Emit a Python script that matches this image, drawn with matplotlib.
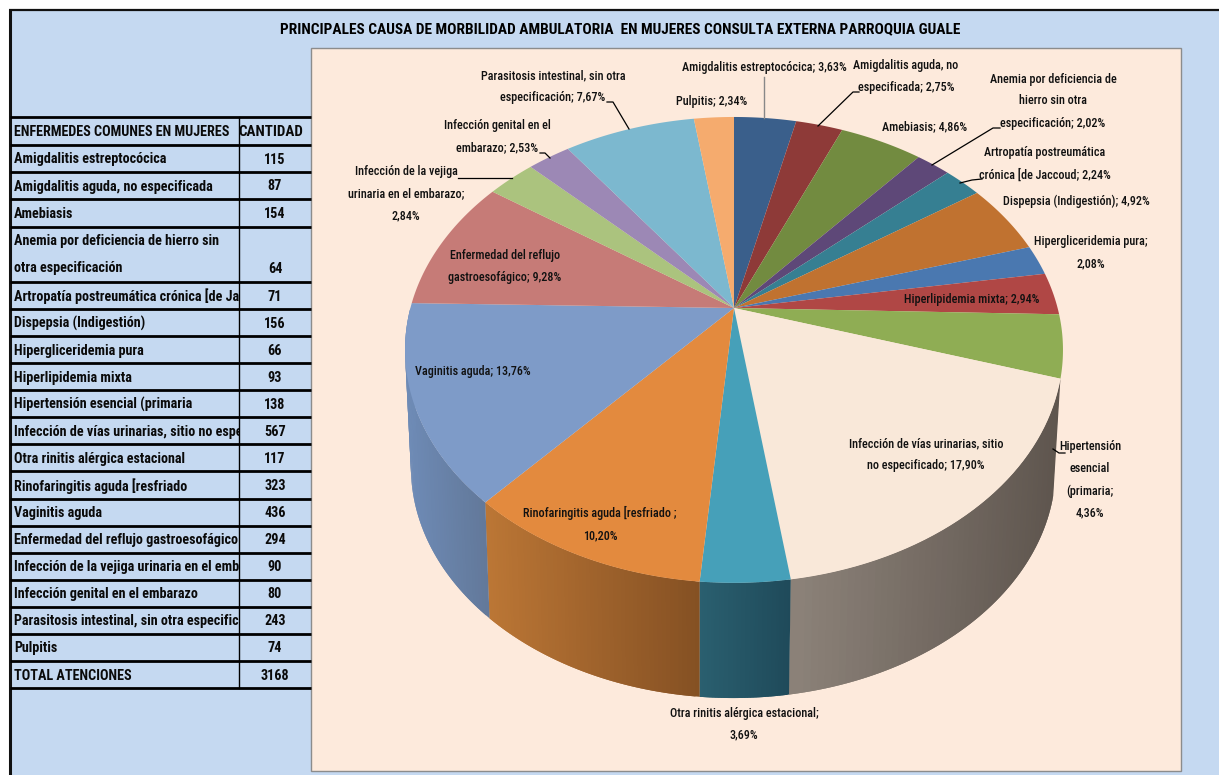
import numpy as np
import matplotlib
matplotlib.use("Agg")
import matplotlib.pyplot as plt
from matplotlib.colors import to_rgb
from matplotlib.patches import Rectangle

W, H = 1219, 775
plt.rcParams["font.family"] = ["Roboto Condensed", "Lato", "DejaVu Sans"]

TITLE = "PRINCIPALES CAUSA DE MORBILIDAD AMBULATORIA  EN MUJERES CONSULTA EXTERNA PARROQUIA GUALE"

table_head = ["ENFERMEDES COMUNES EN MUJERES", "CANTIDAD"]
# tal como se ven en la celda, los nombres largos salen cortados
diseases = [
    "Amigdalitis estreptocócica", "Amigdalitis aguda, no especificada", "Amebiasis",
    "Anemia por deficiencia de hierro sin\notra especificación",
    "Artropatía postreumática crónica [de Ja", "Dispepsia (Indigestión)",
    "Hipergliceridemia pura", "Hiperlipidemia mixta", "Hipertensión esencial (primaria",
    "Infección de vías urinarias, sitio no espe", "Otra rinitis alérgica estacional",
    "Rinofaringitis aguda [resfriado", "Vaginitis aguda", "Enfermedad del reflujo gastroesofágico",
    "Infección de la vejiga urinaria en el emb", "Infección genital en el embarazo",
    "Parasitosis intestinal, sin otra especifica", "Pulpitis",
]
counts = [115, 87, 154, 64, 71, 156, 66, 93, 138, 567, 117, 323, 436, 294, 90, 80, 243, 74]
total_label = "TOTAL ATENCIONES"
total = 3168

slice_labels = [
    "Amigdalitis estreptocócica; 3,63%", "Amigdalitis aguda, no\nespecificada; 2,75%",
    "Amebiasis; 4,86%", "Anemia por deficiencia de\nhierro sin otra\nespecificación; 2,02%",
    "Artropatía postreumática\ncrónica [de Jaccoud; 2,24%", "Dispepsia (Indigestión); 4,92%",
    "Hipergliceridemia pura;\n2,08%", "Hiperlipidemia mixta; 2,94%",
    "Hipertensión\nesencial\n(primaria;\n4,36%", "Infección de vías urinarias, sitio\nno especificado; 17,90%",
    "Otra rinitis alérgica estacional;\n3,69%", "Rinofaringitis aguda [resfriado ;\n10,20%",
    "Vaginitis aguda; 13,76%", "Enfermedad del reflujo\ngastroesofágico; 9,28%",
    "Infección de la vejiga\nurinaria en el embarazo;\n2,84%", "Infección genital en el\nembarazo; 2,53%",
    "Parasitosis intestinal, sin otra\nespecificación; 7,67%", "Pulpitis; 2,34%",
]
label_xy = [
    (764, 67), (906, 77), (925, 127), (1053, 101), (1045, 164), (1076, 201), (1091, 253), (972, 300),
    (1090, 480), (926, 455), (744, 724), (600, 524), (473, 371), (505, 266), (406, 194), (497, 137),
    (553, 87), (712, 102),
]
leaders = [
    [(859, 92), (853, 92), (818, 126)], [(1000, 128), (993, 128), (932, 165)],
    [(982, 179), (972, 180), (960, 183)], [(1053, 449), (1059, 453), (1065, 453)],
    [(458, 178), (512, 178)], [(540, 153), (545, 153), (550, 158)],
    [(607, 102), (613, 102), (629, 129)],
]
gray_leader = [(764, 77), (764, 118)]

top_colors = [
    "#3a5f8b", "#8e3a38", "#728b40", "#5e4878", "#367f92", "#c07230", "#4a78b0", "#b04745", "#8fad54",
    "#f9e8d9", "#46a0b9", "#e38a3e", "#7e9bc8", "#c67b77", "#abc37e", "#9c88b5", "#7cb8cf", "#f5ab6e",
]
# cara lateral: color izq / der
wall_colors = {
    9: ("#8c8279", "#5e554e"), 10: ("#2a5f6f", "#1f4a5a"),
    11: ("#bb7635", "#845023"), 12: ("#6e8bb6", "#627899"),
}

BG = "#c5d9f1"
PANEL = "#fdeadc"
CX, CY, RX, RY, KP = 734, 308, 323.6, 225.4, 0.18
TABLE_FS = 10.2
HEAD_FS = 10.2
LABEL_FS = 8.7


def top_pt(t):
    r = np.radians(np.asarray(t, dtype=float))
    u, v = np.sin(r), np.cos(r)
    d = 1 + KP * v
    return CX + RX * u / d, CY - RY * v / d


def bottom_pt(t):
    x, y = top_pt(t)
    return 700 + 0.98 * (x - 700), 121 + 0.99 * y


def mix(a, b, f):
    a, b = np.array(to_rgb(a)), np.array(to_rgb(b))
    return a + (b - a) * f


def draw_pie(ax):
    edges = np.cumsum([0] + counts) / sum(counts) * 360
    for i, col in wall_colors.items():
        ts = np.linspace(edges[i], min(edges[i + 1], 270), 60)
        xs = top_pt(ts)[0]
        lo, hi = xs.min(), xs.max()
        for k in range(len(ts) - 1):
            pair = ts[[k, min(k + 2, len(ts) - 1)]]  # solape para que no queden rayas
            xa, ya = top_pt(pair)
            xb, yb = bottom_pt(pair[::-1])
            c = mix(col[0], col[1], (xa.mean() - lo) / (hi - lo))
            ax.fill(np.r_[xa, xb], np.r_[ya, yb], fc=c, ec="none", zorder=2)
    for i, col in enumerate(top_colors):
        ts = np.linspace(edges[i], edges[i + 1], 40)
        x, y = top_pt(ts)
        ax.fill(np.r_[CX, x], np.r_[CY, y], fc=col, ec="none", zorder=3)


def cell(ax, x, y, s, fs=TABLE_FS, ha="left"):
    t = ax.text(x, y, s, fontsize=fs, fontweight="bold", va="center", ha=ha, color="#0a0a0a", zorder=4)
    if ha == "left":  # recorte en el borde de la columna
        t.set_clip_path(Rectangle((10, y - 14), 229, 28, transform=ax.transData))
        t.set_clip_on(True)


def draw_table(ax):
    xs = (10, 239, 311)
    rows = [117, 145, 172, 199, 227, 282] + [282 + 27.07 * i for i in range(1, 16)]
    for y in rows:
        ax.plot([xs[0], xs[2]], [y, y], color="black", lw=2.0, zorder=2, solid_capstyle="butt")
    ax.plot([xs[1], xs[1]], [rows[0], rows[-1]], color="black", lw=1.0, zorder=2)

    cell(ax, 14, 132, table_head[0], HEAD_FS)
    cell(ax, 271, 132, table_head[1], 10.8, "center")
    names = diseases + [total_label]
    vals = counts + [total]
    for name, val, y0, y1 in zip(names, vals, rows[1:-1], rows[2:]):
        vy = (y0 + y1) / 2 + 1
        if "\n" in name:  # la fila de Anemia ocupa dos renglones
            first, second = name.split("\n")
            cell(ax, 14, y0 + 14, first)
            cell(ax, 14, y0 + 41, second)
            vy = y0 + 42
        else:
            cell(ax, 14, vy, name)
        cell(ax, 275, vy, str(val), ha="center")


def main():
    fig = plt.figure(figsize=(W / 100, H / 100), dpi=100, facecolor="white")
    ax = fig.add_axes([0, 0, 1, 1])
    ax.set_xlim(0, W)
    ax.set_ylim(H, 0)
    ax.axis("off")

    ax.add_patch(Rectangle((10, 10), W - 10, H - 10, fc=BG, ec="none", zorder=0))
    ax.plot([10, 10], [H, 9], color="#111111", lw=2.2, zorder=1, solid_capstyle="butt")
    ax.plot([9, W], [9.5, 9.5], color="#111111", lw=1.6, zorder=1, solid_capstyle="butt")
    ax.add_patch(Rectangle((311, 48), 870, 723, fc=PANEL, ec="#8c8c8c", lw=1.0, zorder=1))

    ax.text(620.5, 29, TITLE, fontsize=11.1, fontweight="bold", ha="center", va="center", zorder=4)

    draw_table(ax)
    draw_pie(ax)

    for pts in leaders:
        ax.plot(*zip(*pts), color="black", lw=0.9, zorder=4)
    ax.plot(*zip(*gray_leader), color="#888888", lw=1.0, zorder=4)
    for s, (x, y) in zip(slice_labels, label_xy):
        ax.text(x, y, s, fontsize=LABEL_FS, fontweight=500, ha="center", va="center", linespacing=1.9,
                color="#111111", zorder=5)

    fig.savefig("out.png", dpi=100)


if __name__ == "__main__":
    main()
